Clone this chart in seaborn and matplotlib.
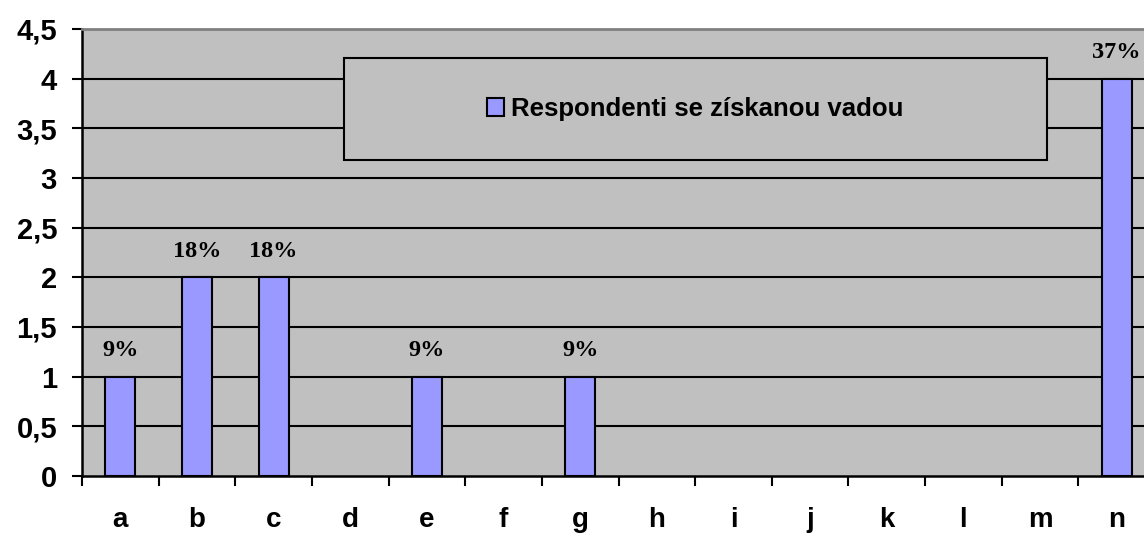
import matplotlib
matplotlib.use("Agg")
import matplotlib.pyplot as plt
import seaborn as sns
from matplotlib.patches import Rectangle
from matplotlib.ticker import FuncFormatter, FixedLocator

# Data
categories = ['a', 'b', 'c', 'd', 'e', 'f', 'g', 'h', 'i', 'j', 'k', 'l', 'm', 'n']
counts = [1, 2, 2, 0, 1, 0, 1, 0, 0, 0, 0, 0, 0, 4]
pct_labels = ['9%', '18%', '18%', '', '9%', '', '9%', '', '', '', '', '', '', '37%']
series_name = 'Respondenti se získanou vadou'

sns.set_style("white")
plt.rcParams['font.family'] = ['Liberation Sans', 'DejaVu Sans']
plt.rcParams['font.weight'] = 'bold'
plt.rcParams['text.color'] = 'black'
plt.rcParams['xtick.color'] = 'black'
plt.rcParams['ytick.color'] = 'black'

fig = plt.figure(figsize=(11.44, 5.39), dpi=100)
# plot area runs past the right edge, like the original screenshot
ax = fig.add_axes([82 / 1144, 63 / 539, 1073 / 1144, 447 / 539])
ax.set_facecolor('#C0C0C0')

sns.barplot(x=categories, y=counts, color='#9999FF', saturation=1,
            edgecolor='black', linewidth=1.5, width=0.39, ax=ax, label=series_name,
            zorder=3)
# no outline for empty bars
for patch, c in zip(ax.containers[0], counts):
    if c == 0:
        patch.set_linewidth(0)

# horizontal gridlines
for v in [0.5, 1, 1.5, 2, 2.5, 3, 3.5, 4]:
    ax.axhline(v, color='black', lw=1.5, zorder=1)

ax.set_xlim(-0.5, 13.5)
ax.set_ylim(0, 4.5)
ax.set_yticks([0, 0.5, 1, 1.5, 2, 2.5, 3, 3.5, 4, 4.5])
ax.yaxis.set_major_formatter(FuncFormatter(lambda v, p: f"{v:g}".replace('.', ',')))
ax.xaxis.set_minor_locator(FixedLocator([i - 0.5 for i in range(len(categories) + 1)]))

ax.tick_params(axis='y', left=True, direction='out', length=7, width=1.5,
               color='black', pad=11, labelsize=21, labelcolor='black')
ax.tick_params(axis='x', which='major', length=0, pad=22, labelsize=20,
               labelcolor='black')
ax.tick_params(axis='x', which='minor', bottom=True, direction='out', length=7,
               width=1.5, color='black')
for lab in ax.get_xticklabels() + ax.get_yticklabels():
    lab.set_fontweight('bold')
ax.set_xlabel('')
ax.set_ylabel('')

for side in ['left', 'bottom']:
    ax.spines[side].set_color('black')
    ax.spines[side].set_linewidth(1.8)
ax.spines['top'].set_color('#808080')
ax.spines['top'].set_linewidth(2)
ax.spines['right'].set_visible(False)

# percentage labels above bars
ax.bar_label(ax.containers[0], labels=pct_labels, padding=11, color='black',
             fontsize=17.5, fontweight='bold', family='Liberation Serif')

# legend box
ax.add_patch(Rectangle((0.244, 0.707), 0.655, 0.228, transform=ax.transAxes,
                       facecolor='#C0C0C0', edgecolor='black', lw=1.5, zorder=4))
leg = ax.legend(loc='center', bbox_to_anchor=(0.5716, 0.821), frameon=False,
                prop={'weight': 'bold', 'size': 18.5}, handlelength=0.65,
                handleheight=0.65, handletextpad=0.3)
leg.set_zorder(5)
for t in leg.get_texts():
    t.set_color('black')

fig.savefig('out.png', dpi=100)
